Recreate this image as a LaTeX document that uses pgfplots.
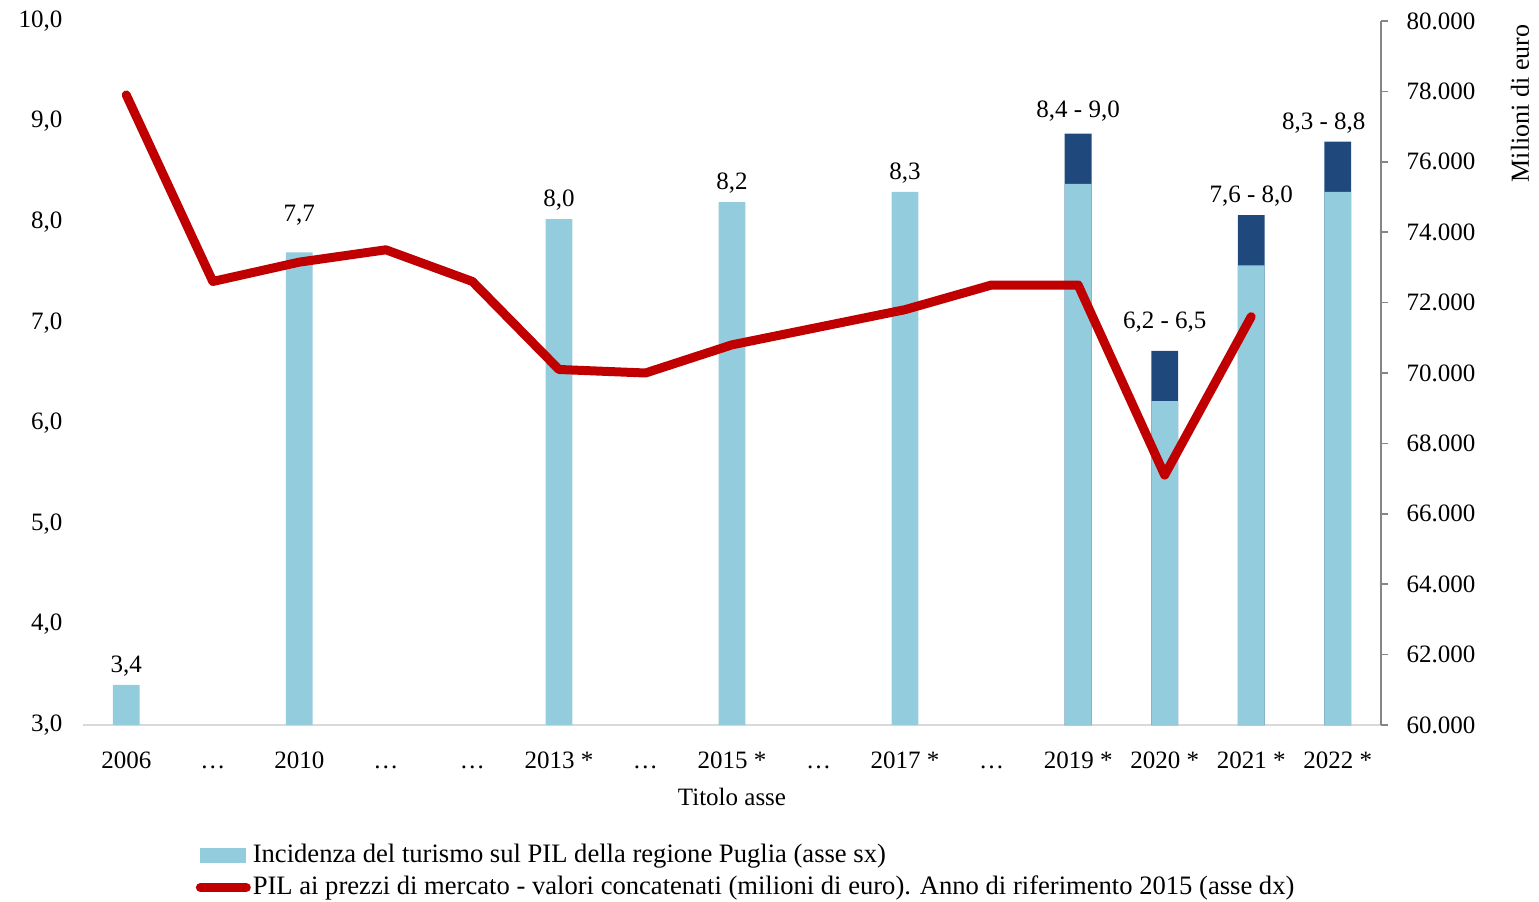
\documentclass[border=0pt]{standalone}
\usepackage{fontspec}
\setmainfont{Liberation Serif}
\usepackage{pgfplots}
\pgfplotsset{compat=1.18}
\definecolor{lb}{HTML}{93CDDD}
\definecolor{db}{HTML}{1F497D}
\definecolor{rd}{HTML}{C00000}
\definecolor{axgray}{HTML}{868686}
\begin{document}
\fontsize{12.5}{15}\selectfont
\begin{tikzpicture}
\useasboundingbox (-41.5pt,-88pt) rectangle (728pt,362.5pt);
\begin{axis}[
  scale only axis, width=649pt, height=352pt,
  xmin=-0.5, xmax=14.5, ymin=3, ymax=10,
  axis x line*=bottom, axis y line*=left,
  x axis line style={draw=black!15, line width=1.2pt},
  y axis line style={draw=none},
  xtick={0,...,14},
  xticklabels={2006,…,2010,…,…,2013 *,…,2015 *,…,2017 *,…,2019 *,2020 *,2021 *,2022 *},
  ytick={3,4,...,10},
  major tick length=0pt,
  ticklabel style={font=\fontsize{12.5}{15}\selectfont, text=black},
  yticklabel style={xshift=-6pt, /pgf/number format/fixed, /pgf/number format/fixed zerofill,
    /pgf/number format/precision=1, /pgf/number format/use comma, /pgf/number format/assume math mode=true},
  xticklabel style={text height=1.6ex, text depth=0.3ex, yshift=-8pt},
  xlabel={Titolo asse},
  xlabel style={font=\fontsize{12.5}{15}\selectfont},
  bar width=13.4pt,
  nodes near coords style={font=\fontsize{12.5}{15}\selectfont, text=black},
  legend style={at={(axis description cs:0.082,-0.16)}, anchor=north west, draw=none, fill=none,
    font=\fontsize{13.3}{16}\selectfont, legend cell align=left, row sep=3pt,
    nodes={inner sep=1pt}},
  clip=false,
]
% dark (upper range) bars, drawn first, full height
\addplot[ybar, bar shift=0pt, fill=db, draw=none, forget plot]
  coordinates {(11,8.88) (12,6.72) (13,8.07) (14,8.8)};
% light bars
\addplot[ybar, bar shift=0pt, fill=lb, draw=none,
  legend image code/.code={\fill[lb] (0pt,-3.8pt) rectangle (23pt,3.8pt);}]
  coordinates {(0,3.4) (2,7.7) (5,8.03) (7,8.2) (9,8.3)};
\addlegendentry{Incidenza del turismo sul PIL della regione Puglia (asse sx)}
\addplot[ybar, bar shift=0pt, fill=lb, draw=none, forget plot]
  coordinates {(11,8.38) (12,6.22) (13,7.57) (14,8.3)};
% data labels
\addplot[draw=none, forget plot, nodes near coords, point meta=explicit symbolic]
  coordinates {(0,3.4) [3,4] (5,8.03) [8,0] (7,8.2) [8,2] (9,8.3) [8,3] (13,8.07) [7,6 - 8,0]};
\addplot[draw=none, forget plot, nodes near coords, point meta=explicit symbolic,
  nodes near coords style={yshift=9pt}]
  coordinates {(2,7.7) [7,7]};
\addplot[draw=none, forget plot, nodes near coords, point meta=explicit symbolic,
  nodes near coords style={yshift=2pt}]
  coordinates {(11,8.88) [8,4 - 9,0]};
\addplot[draw=none, forget plot, nodes near coords, point meta=explicit symbolic,
  nodes near coords style={yshift=5pt}]
  coordinates {(12,6.72) [6,2 - 6,5]};
\addplot[draw=none, forget plot, nodes near coords, point meta=explicit symbolic,
  nodes near coords style={xshift=-7pt}]
  coordinates {(14,8.8) [8,3 - 8,8]};
\addlegendimage{legend image code/.code={\draw[rd, line width=4.5pt, line cap=round] (0pt,0pt) -- (23pt,0pt);}}
\addlegendentry{PIL ai prezzi di mercato - valori concatenati (milioni di euro). Anno di riferimento 2015 (asse dx)}
\end{axis}
\begin{axis}[
  scale only axis, width=649pt, height=352pt,
  xmin=-0.5, xmax=14.5, ymin=60000, ymax=80000,
  axis y line*=right, axis x line=none,
  y axis line style={draw=axgray, line width=1pt},
  ytick={60000,62000,...,80000},
  scaled y ticks=false,
  tick align=outside, major tick length=3.5pt,
  ytick style={draw=axgray, line width=0.8pt},
  ticklabel style={font=\fontsize{12.5}{15}\selectfont, text=black},
  yticklabel style={xshift=5pt, /pgf/number format/fixed, /pgf/number format/1000 sep={.},
    /pgf/number format/assume math mode=true},
  every axis y label/.style={at={(axis description cs:1.107,1.007)}, anchor=east, rotate=90,
    font=\fontsize{13}{15}\selectfont},
  ylabel={Milioni di euro},
]
\addplot[rd, line width=4.5pt, line join=round, line cap=round] coordinates {
  (0,77900) (1,72600) (2,73150) (3,73500) (4,72600) (5,70100) (6,70000)
  (7,70800) (8,71300) (9,71800) (10,72500) (11,72500) (12,67100) (13,71600)};
\end{axis}
\end{tikzpicture}
\end{document}
